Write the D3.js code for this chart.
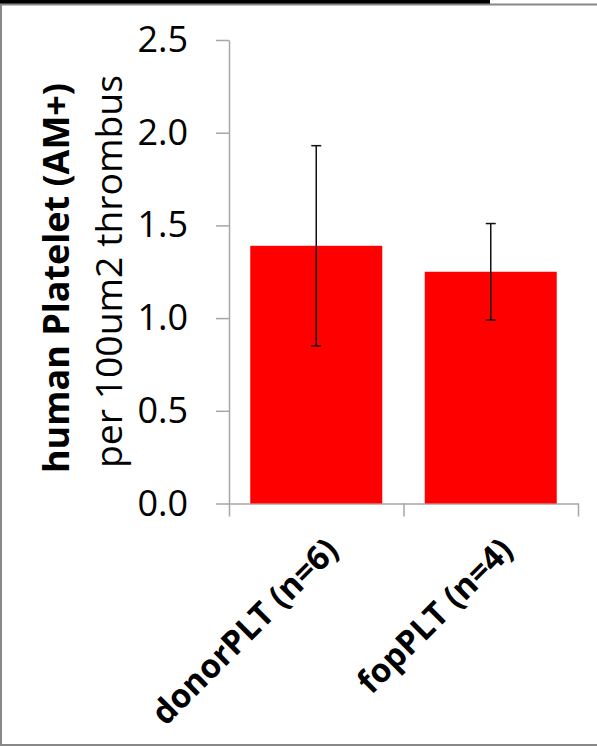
<!DOCTYPE html>
<html>
<head>
<meta charset="utf-8">
<script src="https://cdn.jsdelivr.net/npm/d3@7"></script>
<style>
  body { margin: 0; background: #fff; }
  svg { display: block; }
</style>
</head>
<body>
<svg width="597" height="746"></svg>
<script>
const categories = ["donorPLT (n=6)", "fopPLT (n=4)"];
const means = [1.39, 1.25];
const errors = [0.54, 0.26];
const yTicks = [0, 0.5, 1.0, 1.5, 2.0, 2.5];
const yTitleBold = "human Platelet (AM+)";
const yTitleReg = "per 100um2 thrombus";

const svg = d3.select("svg");
const font = "'Open Sans', 'DejaVu Sans', sans-serif";
const axisGray = "#a6a6a6";

// frame bits from the screenshot
svg.append("rect").attr("x", 0).attr("y", 0).attr("width", 490).attr("height", 4).attr("fill", "#000");
svg.append("line").attr("x1", 0).attr("x2", 597).attr("y1", 4.5).attr("y2", 4.5).attr("stroke", "#888").attr("stroke-width", 2);
svg.append("line").attr("x1", 1).attr("x2", 1).attr("y1", 4).attr("y2", 746).attr("stroke", "#888").attr("stroke-width", 2);
svg.append("line").attr("x1", 0).attr("x2", 597).attr("y1", 745).attr("y2", 745).attr("stroke", "#888").attr("stroke-width", 2);

const y = d3.scaleLinear().domain([0, 2.5]).range([503.5, 40]);
const x = d3.scaleBand().domain(categories).range([229, 578]).paddingInner(0.2435).paddingOuter(0.2435 / 2);
const xEdge = d3.scaleLinear().domain([0, categories.length]).range([229, 578]);

// y axis
const yAxis = svg.append("g")
    .attr("transform", "translate(229,0)")
    .call(d3.axisLeft(y).tickValues(yTicks).tickSize(13).tickSizeOuter(0).tickPadding(28).tickFormat(d3.format(".1f")));
yAxis.selectAll("path, line").attr("stroke", axisGray).attr("stroke-width", 1.5);
yAxis.selectAll("text")
    .attr("font-family", font).attr("font-size", 36).attr("fill", "#000");

// x axis
const xAxis = svg.append("g")
    .attr("transform", "translate(0,503.5)")
    .call(d3.axisBottom(xEdge).tickValues(d3.range(categories.length + 1)).tickSize(13).tickSizeOuter(0).tickFormat(""));
xAxis.selectAll("path, line").attr("stroke", axisGray).attr("stroke-width", 1.5);

// bars
svg.selectAll(".bar")
    .data(categories)
    .join("rect")
    .attr("class", "bar")
    .attr("x", d => x(d))
    .attr("width", x.bandwidth())
    .attr("y", (d, i) => y(means[i]))
    .attr("height", (d, i) => y(0) - y(means[i]))
    .attr("fill", "#ff0000");

// error bars
const eb = svg.selectAll(".err")
    .data(categories)
    .join("g")
    .attr("class", "err")
    .attr("stroke", "#111")
    .attr("stroke-width", 1.5);
eb.append("line")
    .attr("x1", d => x(d) + x.bandwidth() / 2)
    .attr("x2", d => x(d) + x.bandwidth() / 2)
    .attr("y1", (d, i) => y(means[i] + errors[i]))
    .attr("y2", (d, i) => y(means[i] - errors[i]));
[1, -1].forEach(s => {
    eb.append("line")
        .attr("x1", d => x(d) + x.bandwidth() / 2 - 5)
        .attr("x2", d => x(d) + x.bandwidth() / 2 + 5)
        .attr("y1", (d, i) => y(means[i] + s * errors[i]))
        .attr("y2", (d, i) => y(means[i] + s * errors[i]));
});

// category labels
svg.selectAll(".xlab")
    .data(categories)
    .join("text")
    .attr("class", "xlab")
    .attr("transform", d => `translate(${x(d) + x.bandwidth() / 2 + 24},${552}) rotate(-45)`)
    .attr("text-anchor", "end")
    .attr("font-family", font)
    .attr("font-weight", "bold")
    .attr("font-size", 33)
    .text(d => d);

// y axis title
svg.append("text")
    .attr("transform", "translate(69,278) rotate(-90)")
    .attr("text-anchor", "middle")
    .attr("font-family", font)
    .attr("font-weight", "bold")
    .attr("font-size", 36)
    .attr("textLength", 390)
    .attr("lengthAdjust", "spacingAndGlyphs")
    .text(yTitleBold);
svg.append("text")
    .attr("transform", "translate(122,271.5) rotate(-90)")
    .attr("text-anchor", "middle")
    .attr("font-family", font)
    .attr("font-size", 36)
    .attr("textLength", 393)
    .attr("lengthAdjust", "spacingAndGlyphs")
    .text(yTitleReg);
</script>
</body>
</html>
